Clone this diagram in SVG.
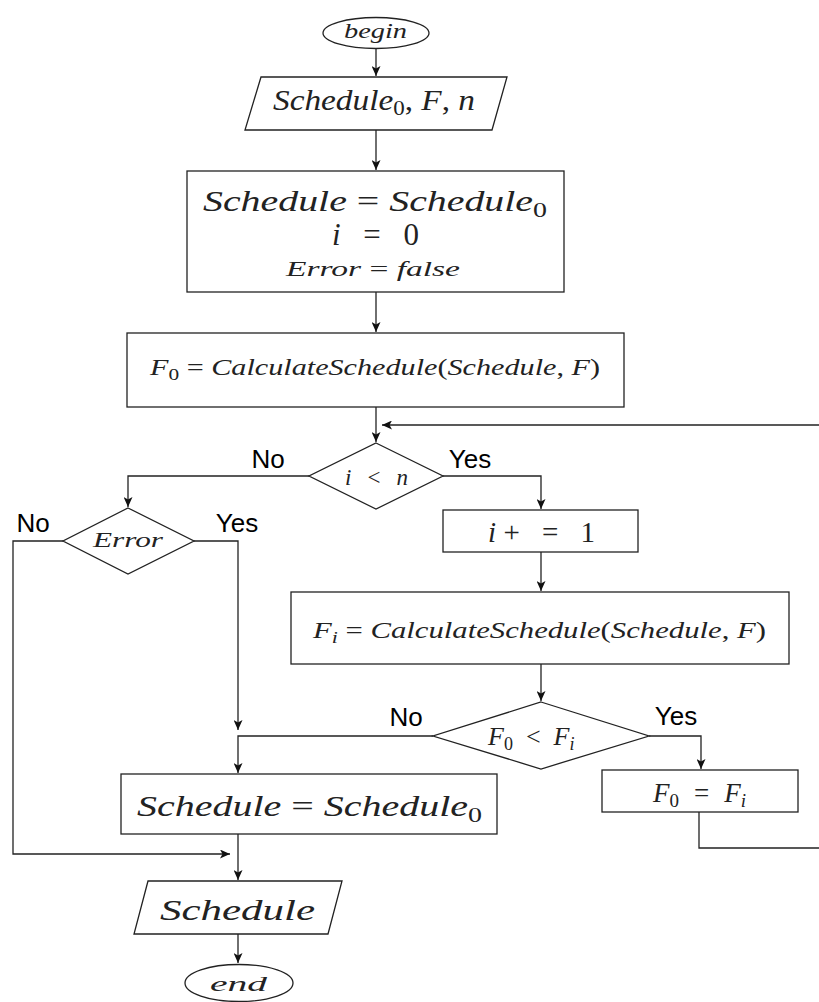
<svg xmlns="http://www.w3.org/2000/svg" width="819" height="1002" viewBox="0 0 819 1002">
<style>
.shape{fill:#fff;stroke:#222;stroke-width:1.3}
.conn{fill:none;stroke:#222;stroke-width:1.3}
.m{font-family:"Liberation Serif","DejaVu Serif",serif;font-style:italic;fill:#222}
.r{font-style:normal}
.lbl{font-family:"Liberation Sans",Arial,sans-serif;font-size:26px;fill:#000;text-anchor:middle}
</style>
<defs>
<marker id="ah" markerUnits="userSpaceOnUse" markerWidth="11" markerHeight="9" refX="10" refY="4.5" orient="auto">
<path d="M0,0 L10,4.5 L0,9 L2.5,4.5 z" fill="#111"/>
</marker>
</defs>
<g id="connectors">
<path class="conn" d="M376,49 V76" marker-end="url(#ah)"/>
<path class="conn" d="M376,130 V170" marker-end="url(#ah)"/>
<path class="conn" d="M376,292 V332" marker-end="url(#ah)"/>
<path class="conn" d="M376,407 V442" marker-end="url(#ah)"/>
<path class="conn" d="M819,425 H382" marker-end="url(#ah)"/>
<path class="conn" d="M309,476 H128 V507" marker-end="url(#ah)"/>
<path class="conn" d="M443,476 H541 V509" marker-end="url(#ah)"/>
<path class="conn" d="M541,552 V591" marker-end="url(#ah)"/>
<path class="conn" d="M541,664 V701" marker-end="url(#ah)"/>
<path class="conn" d="M649,736 H701 V769" marker-end="url(#ah)"/>
<path class="conn" d="M699,812 V848 H819"/>
<path class="conn" d="M433,736 H238 V773" marker-end="url(#ah)"/>
<path class="conn" d="M194,541 H238 V730" marker-end="url(#ah)"/>
<path class="conn" d="M63,541 H13 V854 H230" marker-end="url(#ah)"/>
<path class="conn" d="M238,834 V880" marker-end="url(#ah)"/>
<path class="conn" d="M238,934 V963" marker-end="url(#ah)"/>
<text class="lbl" x="268" y="468">No</text>
<text class="lbl" x="470" y="468">Yes</text>
<text class="lbl" x="33" y="532">No</text>
<text class="lbl" x="237" y="532">Yes</text>
<text class="lbl" x="406" y="726">No</text>
<text class="lbl" x="676" y="725">Yes</text>
</g>
<g id="begin">
<ellipse class="shape" cx="376" cy="33" rx="53" ry="15.5"/>
<text class="m" x="344" y="38" font-size="22" textLength="63" lengthAdjust="spacingAndGlyphs">begin</text>
</g>
<g id="input">
<polygon class="shape" points="261,77 507,77 492,130 245,130"/>
<text class="m" x="273" y="110" font-size="29" textLength="202" lengthAdjust="spacingAndGlyphs">Schedule<tspan class="r" font-size="20" dy="5">0</tspan><tspan class="r" dy="-5">,</tspan> F<tspan class="r">,</tspan> n</text>
</g>
<g id="init">
<rect class="shape" x="187" y="171" width="377" height="121"/>
<text class="m" x="203" y="211" font-size="30" textLength="344" lengthAdjust="spacingAndGlyphs">Schedule <tspan class="r">=</tspan> Schedule<tspan class="r" font-size="21" dy="6">0</tspan></text>
<text class="m" x="332" y="245" font-size="31" textLength="87" lengthAdjust="spacing">i <tspan class="r">= 0</tspan></text>
<text class="m" x="286" y="276" font-size="22" textLength="174" lengthAdjust="spacingAndGlyphs">Error <tspan class="r">=</tspan> false</text>
</g>
<g id="calc0">
<rect class="shape" x="127" y="333" width="497" height="74"/>
<text class="m" x="150" y="375" font-size="24" textLength="450" lengthAdjust="spacingAndGlyphs">F<tspan class="r" font-size="17" dy="5">0</tspan><tspan class="r" dy="-5"> = </tspan>CalculateSchedule<tspan class="r">(</tspan>Schedule<tspan class="r">,</tspan> F<tspan class="r">)</tspan></text>
</g>
<g id="cond-i">
<polygon class="shape" points="376,443 443,476 376,509 309,476"/>
<text class="m" x="345" y="485" font-size="23" textLength="63" lengthAdjust="spacing">i <tspan class="r">&lt;</tspan> n</text>
</g>
<g id="cond-error">
<polygon class="shape" points="128,508 194,541 128,574 63,541"/>
<text class="m" x="93" y="547" font-size="20" textLength="70" lengthAdjust="spacingAndGlyphs">Error</text>
</g>
<g id="incr">
<rect class="shape" x="443" y="510" width="195" height="42"/>
<text class="m" x="488" y="542" font-size="29" textLength="107" lengthAdjust="spacing">i<tspan class="r">+ = 1</tspan></text>
</g>
<g id="calci">
<rect class="shape" x="291" y="592" width="498" height="72"/>
<text class="m" x="313" y="638" font-size="24" textLength="453" lengthAdjust="spacingAndGlyphs">F<tspan font-size="17" dy="5">i</tspan><tspan class="r" dy="-5"> = </tspan>CalculateSchedule<tspan class="r">(</tspan>Schedule<tspan class="r">,</tspan> F<tspan class="r">)</tspan></text>
</g>
<g id="cond-f">
<polygon class="shape" points="541,702 649,736 541,769 433,736"/>
<text class="m" x="488" y="745" font-size="26">F<tspan class="r" font-size="18" dy="5">0</tspan><tspan class="r" dy="-5" dx="13">&lt;</tspan><tspan dx="13">F</tspan><tspan font-size="18" dy="5">i</tspan></text>
</g>
<g id="assign">
<rect class="shape" x="602" y="770" width="196" height="42"/>
<text class="m" x="653" y="802" font-size="27">F<tspan class="r" font-size="19" dy="5">0</tspan><tspan class="r" dy="-5" dx="15">=</tspan><tspan dx="15">F</tspan><tspan font-size="19" dy="5">i</tspan></text>
</g>
<g id="restore">
<rect class="shape" x="121" y="774" width="376" height="60"/>
<text class="m" x="137" y="816" font-size="30" textLength="345" lengthAdjust="spacingAndGlyphs">Schedule <tspan class="r">=</tspan> Schedule<tspan class="r" font-size="21" dy="6">0</tspan></text>
</g>
<g id="output">
<polygon class="shape" points="148,881 342,881 328,934 134,934"/>
<text class="m" x="160" y="920" font-size="30" textLength="155" lengthAdjust="spacingAndGlyphs">Schedule</text>
</g>
<g id="end">
<ellipse class="shape" cx="239" cy="983" rx="54" ry="18.5"/>
<text class="m" x="210" y="991" font-size="22" textLength="57" lengthAdjust="spacingAndGlyphs">end</text>
</g>
</svg>
